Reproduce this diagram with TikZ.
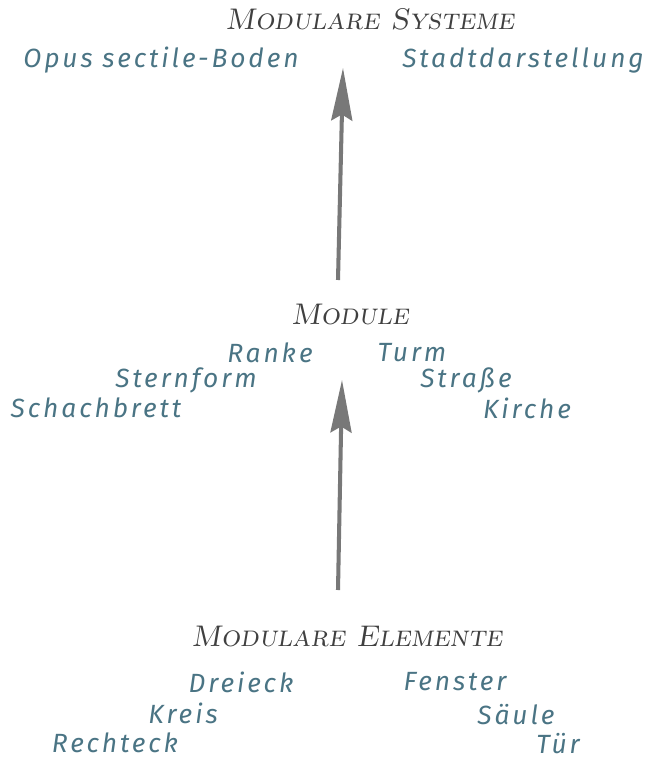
\documentclass[tikz,border=0pt]{standalone}
\usepackage{fontspec}
\setmainfont{Latin Modern Roman}
\newfontfamily\headfont{lmromancaps10-oblique.otf}
\newfontfamily\itemfont[LetterSpace=11]{Fira Sans}
\usetikzlibrary{arrows.meta}

\definecolor{itemblue}{HTML}{4A7484}
\definecolor{headgray}{HTML}{404040}
\definecolor{arrowgray}{HTML}{787878}

\begin{document}
\begin{tikzpicture}[x=0.02cm, y=-0.02cm,
    head/.style={text=headgray, font=\headfont\fontsize{17}{20}\selectfont},
    item/.style={text=itemblue, inner sep=0pt, font=\itemfont\itshape\fontsize{15}{18}\selectfont},
    pfeil/.style={draw=arrowgray, line width=2.3pt, -{Stealth[length=1.05cm, width=0.42cm, inset=0.12cm]}}]

\useasboundingbox (0,0) rectangle (647,760);

% Ebenen
\path (370,19) node[head] (systeme) {Modulare Systeme};
\path (350,315) node[head] (module) {Module};
\path (347,637) node[head] (elemente) {Modulare Elemente};

\begin{scope}[every node/.style={item}]
    \path (systeme) +(-209,41) node (opus) {Opus sectile-Boden};
    \path (systeme) +(153,41) node (stadt) {Stadtdarstellung};

    \path (module) +(-80,38) node (ranke) {Ranke};
    \path (module) +(62,38) node (turm) {Turm};
    \path (module) +(-164,65) node (stern) {Sternform};
    \path (module) +(116,65) node (strasse) {Straße};
    \path (module) +(-254,93) node (schach) {Schachbrett};
    \path (module) +(177,93) node (kirche) {Kirche};

    \path (elemente) +(-106,45) node (dreieck) {Dreieck};
    \path (elemente) +(108,45) node (fenster) {Fenster};
    \path (elemente) +(-164,76) node (kreis) {Kreis};
    \path (elemente) +(169,78) node (saeule) {Säule};
    \path (elemente) +(-232,106) node (rechteck) {Rechteck};
    \path (elemente) +(211,107) node (tuer) {Tür};
\end{scope}

\coordinate (m-fuss) at (338,280);
\coordinate (s-spitze) at (343,68);
\coordinate (e-fuss) at (338,590);
\coordinate (m-spitze) at (342,380);

\draw[pfeil] (m-fuss) -- (s-spitze);
\draw[pfeil] (e-fuss) -- (m-spitze);

\end{tikzpicture}
\end{document}
